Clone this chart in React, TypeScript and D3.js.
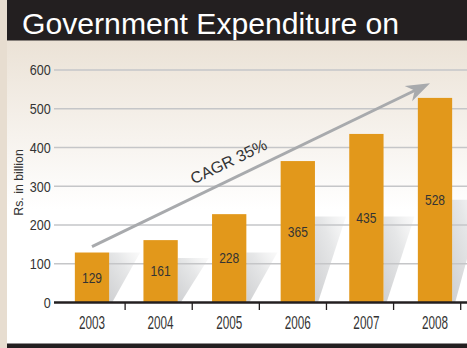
import React from "react";
import * as d3 from "d3";

const years = ["2003", "2004", "2005", "2006", "2007", "2008"];
const values = [129, 161, 228, 365, 435, 528];
const shadowValues = [129, 115, 129, 222, 222, 265];
const yTicks = [0, 100, 200, 300, 400, 500, 600];
const title = "Government Expenditure on";
const yTitle = "Rs. in billion";
const cagrLabel = "CAGR 35%";
const arrowFrom = { year: "2003", value: 144 };
const arrowTo = { year: "2008", value: 566 };

const W = 467;
const H = 348;
const ORANGE = "#e2981b";
const TEXT = "#333333";
const DARK = "#231f20";

function SText({ x, y, sx = 1, rotate = 0, anchor = "middle", size, fill = TEXT, children }: any) {
  return (
    <text
      transform={`translate(${x},${y}) rotate(${rotate}) scale(${sx},1)`}
      textAnchor={anchor}
      fontSize={size}
      fill={fill}
      fontFamily="'Liberation Sans', Arial, sans-serif"
    >
      {children}
    </text>
  );
}

export default function App() {
  const y = d3.scaleLinear().domain([0, 600]).range([302.5, 70]);
  const x = d3
    .scaleBand<string>()
    .domain(years)
    .range([57.7, 469.3])
    .paddingInner(0.5)
    .paddingOuter(0.25);
  const tickX = d3.scaleLinear().domain([0, years.length]).range([58, 460.7]);
  const bw = x.bandwidth();

  const ax = (x(arrowFrom.year) as number) + bw / 2;
  const ay = y(arrowFrom.value);
  const bx = (x(arrowTo.year) as number) + bw / 2 - 5;
  const by = y(arrowTo.value);
  const ang = (Math.atan2(by - ay, bx - ax) * 180) / Math.PI;
  const len = Math.hypot(bx - ax, by - ay);

  return (
    <svg
      width={W}
      height={H}
      style={{ position: "absolute", left: 0, top: 0 }}
      viewBox={`0 0 ${W} ${H}`}
    >
      <defs>
        <linearGradient id="bg" x1="0" y1="0" x2="0" y2="1">
          <stop offset="0" stopColor="#ebe2d6" />
          <stop offset="0.55" stopColor="#ffffff" />
          <stop offset="1" stopColor="#ffffff" />
        </linearGradient>
        <linearGradient id="sh" x1="0" y1="1" x2="1" y2="0">
          <stop offset="0" stopColor="#cfd0d2" />
          <stop offset="0.6" stopColor="#e6e7e8" />
          <stop offset="1" stopColor="#f6f6f6" stopOpacity="0.6" />
        </linearGradient>
      </defs>
      <rect x={0} y={0} width={W} height={H} fill="#e7ddd0" />
      <rect x={7} y={40} width={W - 7} height={H - 40} fill="url(#bg)" />
      <rect x={7} y={0} width={W - 7} height={40.5} fill={DARK} />
      <rect x={7} y={343.5} width={W - 7} height={5} fill={DARK} />
      <SText x={22} y={33.5} size={29} sx={1.04} anchor="start" fill="#ffffff">
        {title}
      </SText>

      {years.map((yr, i) => {
        const r = (x(yr) as number) + bw;
        const top = y(shadowValues[i]);
        const bot = y(0);
        return (
          <path
            key={"s" + yr}
            d={`M${r},${top}L${r + 31},${top}L${r + 3},${bot}L${r},${bot}Z`}
            fill="url(#sh)"
          />
        );
      })}

      {yTicks.slice(1).map((t) => (
        <line key={"g" + t} x1={54} x2={W} y1={y(t)} y2={y(t)} stroke="#c5c6c8" strokeWidth={1.4} />
      ))}

      {years.map((yr, i) => (
        <rect
          key={"b" + yr}
          x={x(yr)}
          y={y(values[i])}
          width={bw}
          height={y(0) - y(values[i])}
          fill={ORANGE}
        />
      ))}

      {years.map((yr, i) => (
        <SText
          key={"v" + yr}
          x={(x(yr) as number) + bw / 2}
          y={(y(values[i]) + y(0)) / 2 + 5}
          size={14}
          sx={0.86}
        >
          {values[i]}
        </SText>
      ))}

      <g transform={`translate(${ax},${ay}) rotate(${ang})`}>
        <line x1={0} y1={0} x2={len - 14} y2={0} stroke="#a8aaad" strokeWidth={3} />
        <path
          d={`M${len},0L${len - 24},-8.5L${len - 17},0L${len - 24},8.5Z`}
          fill="#a8aaad"
        />
      </g>
      <SText x={231} y={166.5} rotate={ang} size={16} sx={1}>
        {cagrLabel}
      </SText>

      {yTicks.map((t) => (
        <SText key={"yt" + t} x={50.7} y={y(t) + 5.3} size={15} sx={0.84} anchor="end">
          {t}
        </SText>
      ))}

      <SText x={23} y={182.5} rotate={-90} size={13} sx={0.95}>
        {yTitle}
      </SText>

      <line x1={54} x2={W} y1={y(0)} y2={y(0)} stroke={DARK} strokeWidth={2.6} />
      {years.map((yr, i) => (
        <line
          key={"t" + yr}
          x1={tickX(i + 1)}
          x2={tickX(i + 1)}
          y1={y(0)}
          y2={y(0) + 7.5}
          stroke={DARK}
          strokeWidth={1.3}
        />
      ))}
      {years.map((yr) => (
        <SText key={"xl" + yr} x={(x(yr) as number) + bw / 2} y={329.3} size={17.5} sx={0.67}>
          {yr}
        </SText>
      ))}
    </svg>
  );
}
